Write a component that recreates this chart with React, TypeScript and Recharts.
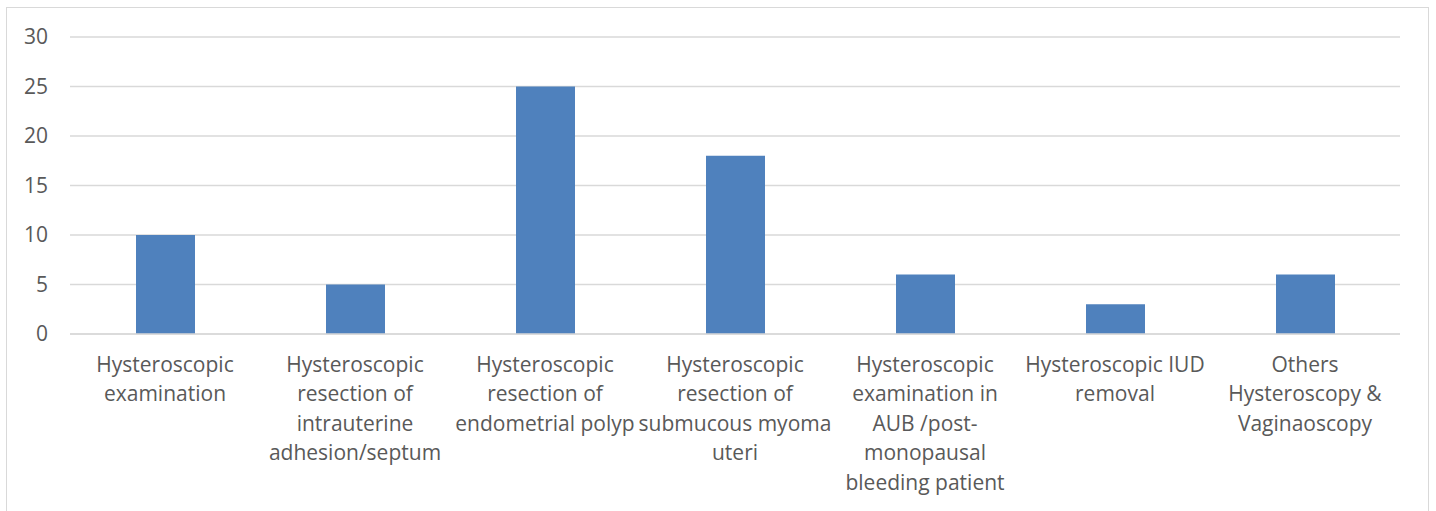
import { BarChart, Bar, XAxis, YAxis, CartesianGrid } from 'recharts';

const categories = [
  'Hysteroscopic\nexamination',
  'Hysteroscopic\nresection of\nintrauterine\nadhesion/septum',
  'Hysteroscopic\nresection of\nendometrial polyp',
  'Hysteroscopic\nresection of\nsubmucous myoma\nuteri',
  'Hysteroscopic\nexamination in\nAUB /post-\nmonopausal\nbleeding patient',
  'Hysteroscopic IUD\nremoval',
  'Others\nHysteroscopy &\nVaginaoscopy',
];

const counts = [10, 5, 25, 18, 6, 3, 6];

const yTicks = [0, 5, 10, 15, 20, 25, 30];

const data = categories.map((name, i) => ({ name, value: counts[i] }));

const textColor = '#595959';
const font = '"Open Sans", sans-serif';

function CategoryTick({ x, y, payload }: any) {
  const lines = String(payload.value).split('\n');
  return (
    <text x={x} y={y + 38} textAnchor="middle" fill={textColor} fontSize={21} fontFamily={font}>
      {lines.map((line, i) => (
        <tspan key={i} x={x} dy={i === 0 ? 0 : 29.4}>
          {line}
        </tspan>
      ))}
    </text>
  );
}

export default function App() {
  return (
    <div style={{ position: 'absolute', left: 0, top: 0, width: 1436, height: 511, overflow: 'hidden', background: '#fff' }}>
      <div
        style={{
          position: 'absolute',
          left: 6,
          top: 7,
          width: 1423,
          height: 600,
          border: '1px solid #d9d9d9',
          boxSizing: 'border-box',
        }}
      />
      <div style={{ position: 'absolute', left: 0, top: 0 }}>
        <BarChart
          width={1436}
          height={511}
          data={data}
          margin={{ top: 37, right: 36, bottom: 0, left: 0 }}
          barSize={59}
        >
          <CartesianGrid vertical={false} stroke="#d9d9d9" strokeWidth={1.5} />
          <YAxis
            domain={[0, 30]}
            ticks={yTicks}
            width={70}
            axisLine={false}
            tickLine={false}
            tickSize={0}
            tickMargin={22}
            tick={{ fill: textColor, fontSize: 21, fontFamily: font }}
          />
          <XAxis
            dataKey="name"
            height={177}
            axisLine={{ stroke: '#d9d9d9', strokeWidth: 1.5 }}
            tickLine={false}
            tickSize={0}
            tickMargin={0}
            interval={0}
            tick={<CategoryTick />}
          />
          <Bar dataKey="value" fill="#4f81bd" isAnimationActive={false} />
        </BarChart>
      </div>
    </div>
  );
}
